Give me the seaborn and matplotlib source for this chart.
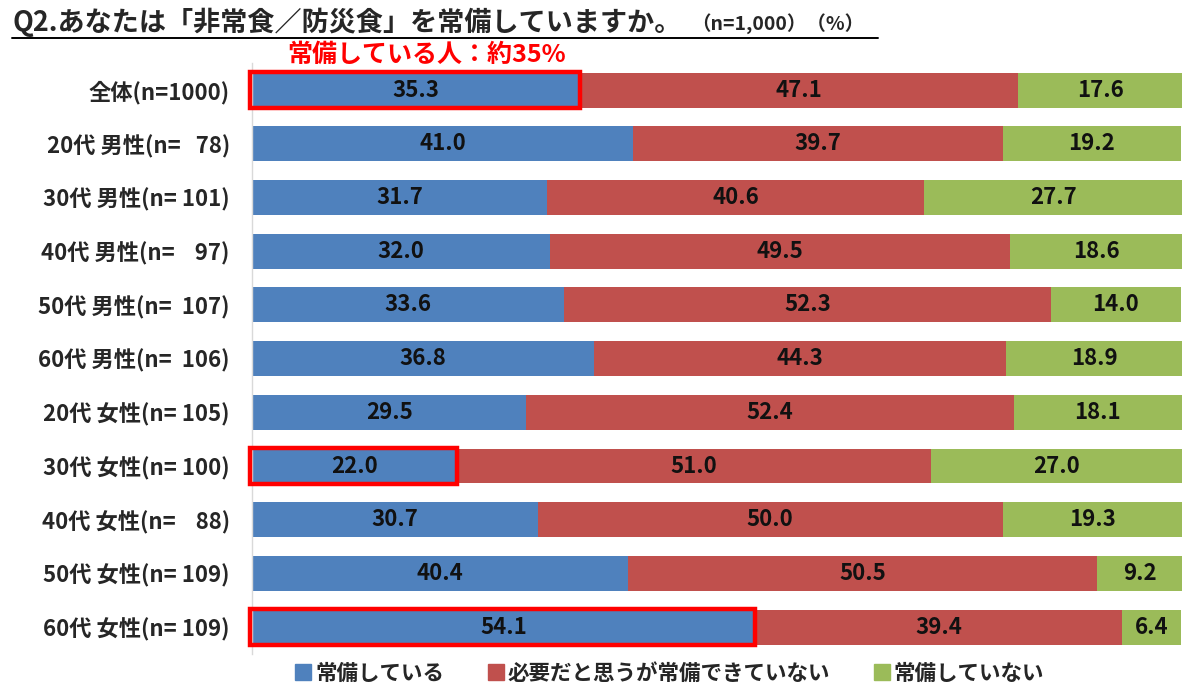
import matplotlib
matplotlib.use("Agg")
import matplotlib.pyplot as plt
from matplotlib.patches import Rectangle
from matplotlib.lines import Line2D
import seaborn as sns
import pandas as pd
import numpy as np

CATEGORIES = [
    "全体(n=1000)", "20代 男性(n=   78)", "30代 男性(n= 101)", "40代 男性(n=    97)",
    "50代 男性(n=  107)", "60代 男性(n=  106)", "20代 女性(n= 105)", "30代 女性(n= 100)",
    "40代 女性(n=    88)", "50代 女性(n= 109)", "60代 女性(n= 109)",
]
STOCKED = [35.3, 41.0, 31.7, 32.0, 33.6, 36.8, 29.5, 22.0, 30.7, 40.4, 54.1]
NEED_BUT_NOT = [47.1, 39.7, 40.6, 49.5, 52.3, 44.3, 52.4, 51.0, 50.0, 50.5, 39.4]
NOT_STOCKED = [17.6, 19.2, 27.7, 18.6, 14.0, 18.9, 18.1, 27.0, 19.3, 9.2, 6.4]
SERIES_NAMES = ["常備している", "必要だと思うが常備できていない", "常備していない"]
HIGHLIGHT_ROWS = [0, 7, 10]

COLORS = ["#4F81BD", "#C0504D", "#9BBB59"]

sns.set_style("white")
plt.rcParams["font.family"] = ["Noto Sans CJK JP", "DejaVu Sans"]

df = pd.DataFrame({
    "cat": CATEGORIES,
    "s1": STOCKED,
    "s2": NEED_BUT_NOT,
    "s3": NOT_STOCKED,
})
df["c1"] = df["s1"]
df["c2"] = df["s1"] + df["s2"]
df["c3"] = df["c2"] + df["s3"]

fig = plt.figure(figsize=(12, 6.95), dpi=100)
ax = fig.add_axes([0.21, 0.059, 0.775, 0.85])

# stacked bars: draw cumulative totals back to front
for col, color in zip(["c3", "c2", "c1"], COLORS[::-1]):
    sns.barplot(data=df, x=col, y="cat", color=color, orient="h",
                width=0.65, ax=ax, saturation=1, linewidth=0)

ax.set_xlim(0, 100)
ax.set_xlabel("")
ax.set_ylabel("")
ax.set_xticks([])
ax.tick_params(axis="y", length=0, pad=16)
for lab in ax.get_yticklabels():
    lab.set_fontsize(16)
    lab.set_fontweight("bold")
for s in ["top", "right", "bottom"]:
    ax.spines[s].set_visible(False)
ax.spines["left"].set_color("#d9d9d9")
ax.spines["left"].set_linewidth(1)

# segment labels
for i in range(len(df)):
    lefts = [0, df["c1"][i], df["c2"][i]]
    vals = [df["s1"][i], df["s2"][i], df["s3"][i]]
    for l, v in zip(lefts, vals):
        ax.text(l + v / 2, i, f"{v:.1f}", ha="center", va="center",
                fontsize=16, fontweight="bold", color="#111111")

# red highlight boxes
for i in HIGHLIGHT_ROWS:
    ax.add_patch(Rectangle((-0.2, i - 0.34), df["s1"][i] + 0.2, 0.68,
                           fill=False, edgecolor="#FF0000", linewidth=3.2,
                           clip_on=False, zorder=5))

# title
fig.text(0.01, 0.968, "Q2.あなたは「非常食／防災食」を常備していますか。",
         fontsize=19.5, fontweight="bold", ha="left", va="center")
fig.text(0.576, 0.966, "（n=1,000）（%）", fontsize=14, fontweight="bold",
         ha="left", va="center")
fig.add_artist(Line2D([0.01, 0.732], [0.945, 0.945], color="black", linewidth=1.4))

fig.text(0.239, 0.921, "常備している人：約35%", fontsize=18, fontweight="bold",
         color="#FF0000", ha="left", va="center")

# legend
handles = [Line2D([], [], marker="s", linestyle="", markersize=11,
                  markerfacecolor=c, markeredgecolor=c) for c in COLORS]
fig.legend(handles, SERIES_NAMES, loc="center", bbox_to_anchor=(0.557, 0.031),
           ncol=3, frameon=False, prop={"size": 15.5, "weight": "bold"},
           handletextpad=0.05, columnspacing=1.9, handlelength=1.0)

fig.savefig("out.png", dpi=100)
